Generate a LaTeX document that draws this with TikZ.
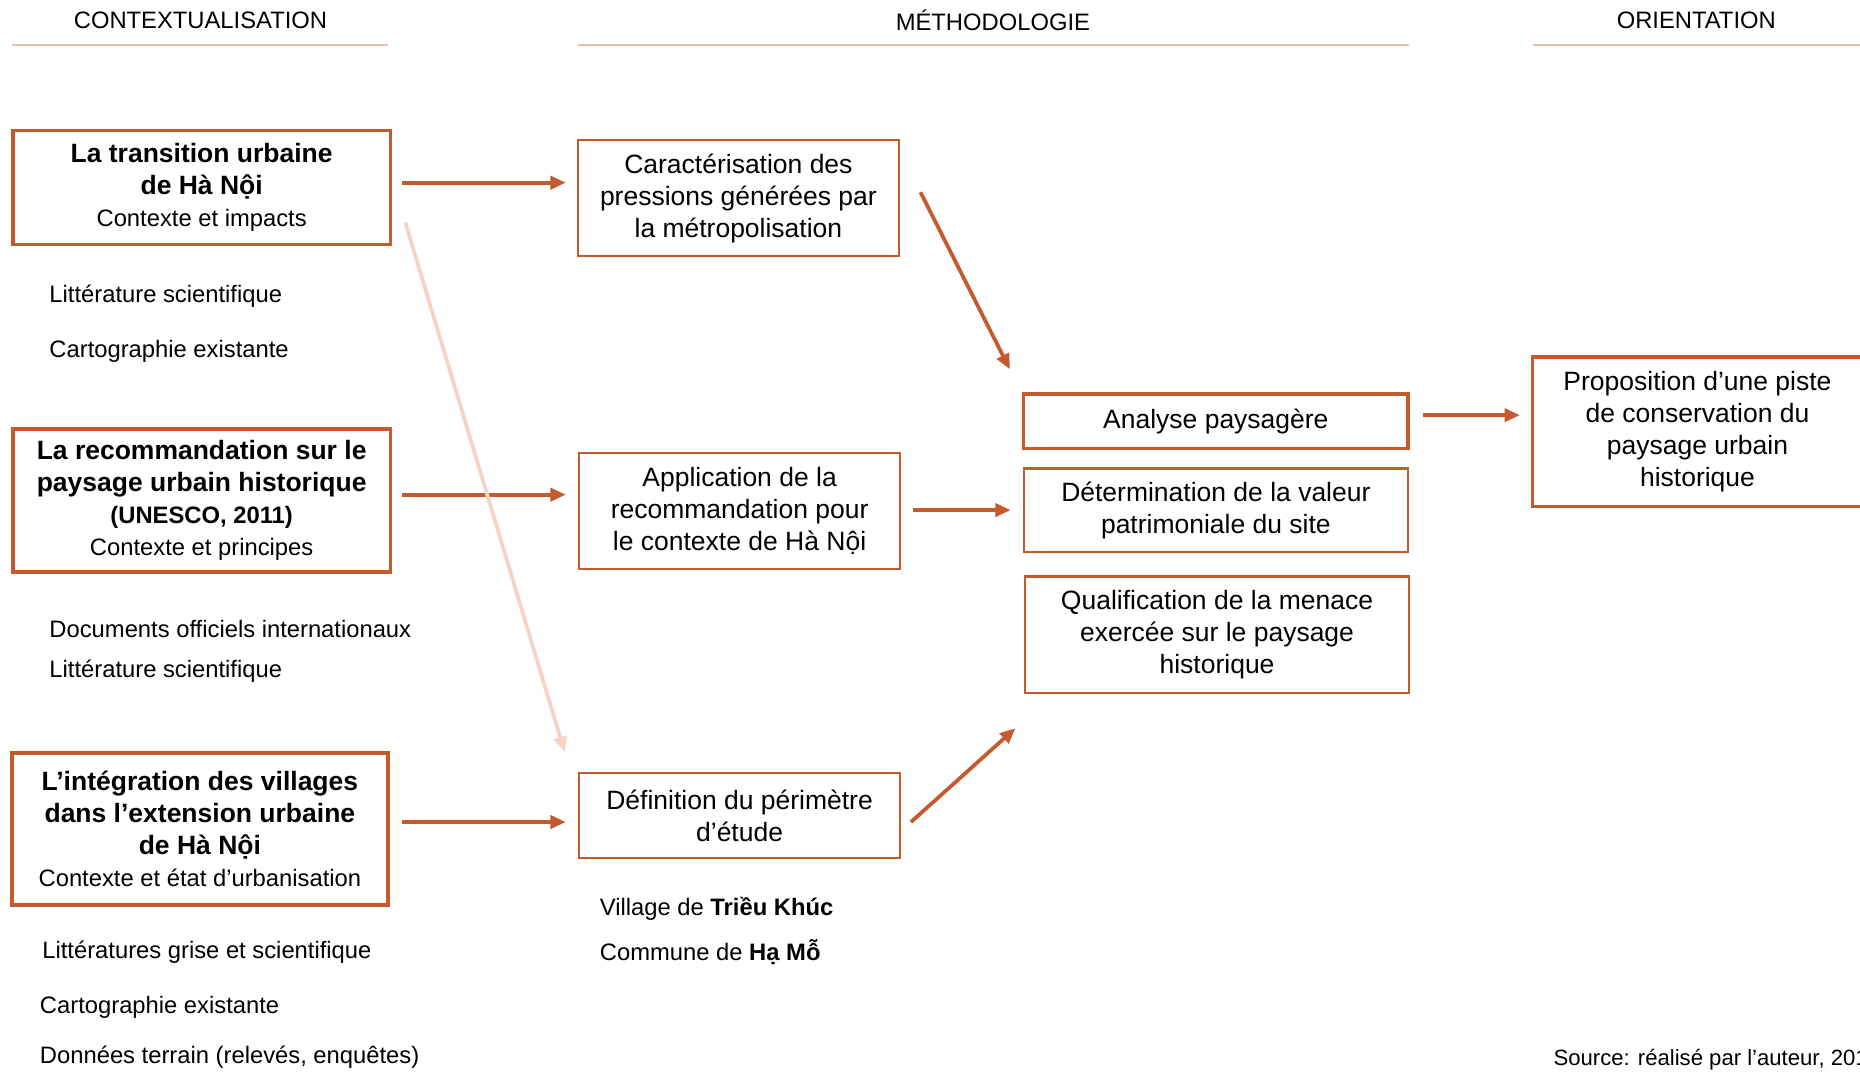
\documentclass[tikz,border=0pt]{standalone}
\usepackage{fontspec}
\setmainfont{Liberation Sans}
\usetikzlibrary{arrows.meta}
\definecolor{rust}{RGB}{197,90,46}
\definecolor{salmon}{RGB}{236,192,174}
\definecolor{pale}{RGB}{243,212,198}
\newcommand{\smallfont}{\fontsize{5.7}{7.1}\selectfont}
\newcommand{\boxfont}{\fontsize{6.35}{7.65}\selectfont}

\begin{document}
\begin{tikzpicture}[x=0.01cm, y=-0.01cm,
    heading/.style={font=\smallfont},
    ctxbox/.style={draw=rust, line width=0.9pt, align=center, inner sep=0pt, font=\boxfont},
    metbox/.style={draw=rust, line width=0.5pt, align=center, inner sep=0pt, font=\boxfont},
    srcitem/.style={anchor=west, inner sep=0pt, font=\smallfont},
    arr/.style={rust, line width=0.9pt, -{Triangle[length=0.13cm, width=0.11cm]}},
    palearr/.style={pale, line width=0.9pt, -{Triangle[length=0.13cm, width=0.11cm]}}]
    \clip (0,0) rectangle (1568,903);
    % Column headings
    \node[heading] (hctx) at (169,17) {CONTEXTUALISATION};
    \node[heading] (hmet) at (837,17) {MÉTHODOLOGIE};
    \node[heading] (hori) at (1430,17) {ORIENTATION};
    \draw[salmon, line width=0.45pt] (10,38) -- (327,38);
    \draw[salmon, line width=0.45pt] (487,38) -- (1188,38);
    \draw[salmon, line width=0.45pt] (1292,38) -- (1568,38);
    % Contextualisation: three boxes and their sources
    \node[ctxbox, minimum width=3.18cm, minimum height=0.96cm] (transition) at (170,158)
        {\textbf{La transition urbaine}\\\textbf{de Hà Nội}\\{\smallfont Contexte et impacts}};
    \node[srcitem] (lit1) at (41,250) {Littérature scientifique};
    \node[srcitem] (carto1) at (41,296) {Cartographie existante};
    \node[ctxbox, minimum width=3.18cm, minimum height=1.2cm] (recommandation) at (170,422)
        {\textbf{La recommandation sur le}\\\textbf{paysage urbain historique}\\{\smallfont\bfseries (UNESCO, 2011)}\\{\smallfont Contexte et principes}};
    \node[srcitem] (docs) at (41,530) {Documents officiels internationaux};
    \node[srcitem] (lit2) at (41,566) {Littérature scientifique};
    \node[ctxbox, minimum width=3.17cm, minimum height=1.28cm] (integration) at (168.5,699)
        {\textbf{L’intégration des villages}\\\textbf{dans l’extension urbaine}\\\textbf{de Hà Nội}\\{\smallfont Contexte et état d’urbanisation}};
    \node[srcitem] (lit3) at (35,803) {Littératures grise et scientifique};
    \node[srcitem] (carto2) at (33,849) {Cartographie existante};
    \node[srcitem] (terrain) at (33,891) {Données terrain (relevés, enquêtes)};
    % Methodologie: first step
    \node[metbox, minimum width=2.71cm, minimum height=0.98cm] (pressions) at (622.5,167)
        {Caractérisation des\\pressions générées par\\la métropolisation};
    \node[metbox, minimum width=2.71cm, minimum height=0.98cm] (application) at (623.5,431)
        {Application de la\\recommandation pour\\le contexte de Hà Nội};
    \node[metbox, minimum width=2.71cm, minimum height=0.71cm] (perimetre) at (623.5,687.5)
        {Définition du périmètre\\d’étude};
    \node[srcitem] (village) at (505,766) {Village de \textbf{Triều Khúc}};
    \node[srcitem] (commune) at (505,803) {Commune de \textbf{Hạ Mỗ}};
    % Methodologie: analysis
    \node[ctxbox, minimum width=3.24cm, minimum height=0.46cm] (analyse) at (1025,355)
        {Analyse paysagère};
    \node[metbox, minimum width=3.24cm, minimum height=0.7cm] (valeur) at (1025,430)
        {Détermination de la valeur\\patrimoniale du site};
    \node[metbox, minimum width=3.24cm, minimum height=0.98cm] (menace) at (1026,535)
        {Qualification de la menace\\exercée sur le paysage\\historique};
    % Orientation
    \node[ctxbox, minimum width=2.78cm, minimum height=1.26cm] (proposition) at (1431,364)
        {Proposition d’une piste\\de conservation du\\paysage urbain\\historique};
    \node[anchor=west, inner sep=0pt, font=\fontsize{5.3}{6.4}\selectfont] (source) at (1309,893)
        {Source: réalisé par l’auteur, 2017};
    % Arrows
    \draw[arr] ([shift={(8,-4)}]transition.east) -- ([shift={(-9,-13)}]pressions.west);
    \draw[arr] ([shift={(8,-5)}]recommandation.east) -- ([shift={(-10,-14)}]application.west);
    \draw[arr] ([shift={(10,-6)}]integration.east) -- ([shift={(-10,5.5)}]perimetre.west);
    \draw[palearr] ([shift={(11,-20)}]transition.south east) -- ([shift={(-11,-17)}]perimetre.north west);
    \draw[arr] ([shift={(17,-5)}]pressions.east) -- ([shift={(-10,-19)}]analyse.north west);
    \draw[arr] ([shift={(10,-1)}]application.east) -- ([shift={(-10,0)}]valeur.west);
    \draw[arr] ([shift={(8,5.5)}]perimetre.east) -- ([shift={(-7,29)}]menace.south west);
    \draw[arr] ([shift={(11,-5)}]analyse.east) -- ([shift={(-9,-14)}]proposition.west);
\end{tikzpicture}
\end{document}
